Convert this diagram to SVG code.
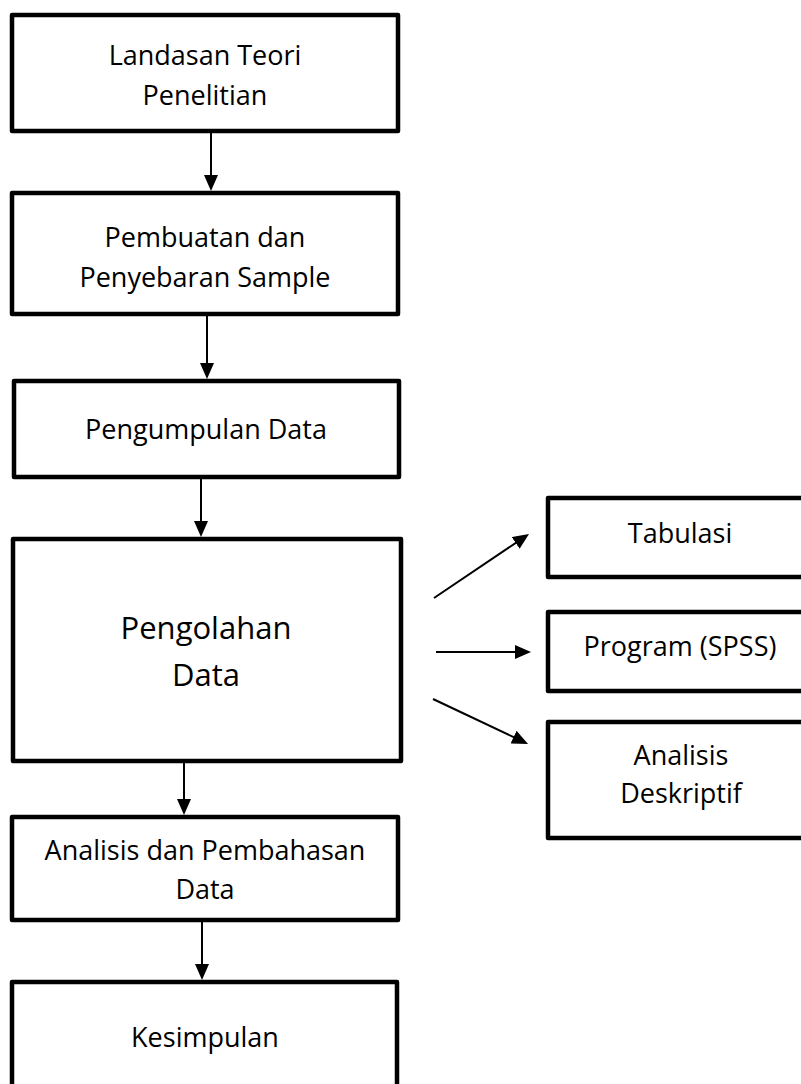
<svg xmlns="http://www.w3.org/2000/svg" width="801" height="1084" viewBox="0 0 801 1084">
<style>
.box{fill:#fff;stroke:#000;stroke-width:4.5;stroke-linejoin:round}
.lbl{font-family:"Open Sans","Noto Sans","Liberation Sans",sans-serif;font-size:27px;fill:#000;text-anchor:middle}
.big{font-size:31px}
.conn{stroke:#000;stroke-width:2;fill:none;marker-end:url(#arrow)}
</style>
<defs>
<marker id="arrow" viewBox="0 0 16 14" refX="6" refY="7" markerWidth="16" markerHeight="14" markerUnits="userSpaceOnUse" orient="auto">
<path d="M0,0 L16,7 L0,14 z" fill="#000"/>
</marker>
</defs>
<rect width="801" height="1084" fill="#fff"/>
<g id="n1"><rect class="box" x="12" y="15" width="386" height="116"/><text class="lbl" x="205" y="65">Landasan Teori</text><text class="lbl" x="205" y="105">Penelitian</text></g>
<g id="n2"><rect class="box" x="12" y="193" width="386" height="121"/><text class="lbl" x="205" y="247">Pembuatan dan</text><text class="lbl" x="205" y="287">Penyebaran Sample</text></g>
<g id="n3"><rect class="box" x="14" y="381" width="385" height="96"/><text class="lbl" x="206" y="439">Pengumpulan Data</text></g>
<g id="n4"><rect class="box" x="13" y="539" width="388" height="222"/><text class="lbl big" x="206" y="639">Pengolahan</text><text class="lbl big" x="206" y="686">Data</text></g>
<g id="n5"><rect class="box" x="12" y="817" width="386" height="103"/><text class="lbl" x="205" y="860">Analisis dan Pembahasan</text><text class="lbl" x="205" y="899">Data</text></g>
<g id="n6"><rect class="box" x="12" y="982" width="385" height="130"/><text class="lbl" x="205" y="1047">Kesimpulan</text></g>
<g id="r1"><rect class="box" x="548" y="498" width="280" height="79"/><text class="lbl" x="680" y="543">Tabulasi</text></g>
<g id="r2"><rect class="box" x="548" y="612" width="280" height="79"/><text class="lbl" x="680" y="656">Program (SPSS)</text></g>
<g id="r3"><rect class="box" x="548" y="722" width="280" height="116"/><text class="lbl" x="681" y="765">Analisis</text><text class="lbl" x="681" y="803">Deskriptif</text></g>
<g id="connectors">
<line class="conn" x1="211" y1="133" x2="211" y2="181"/>
<line class="conn" x1="207" y1="316" x2="207" y2="369"/>
<line class="conn" x1="201" y1="479" x2="201" y2="527"/>
<line class="conn" x1="184" y1="763" x2="184" y2="805"/>
<line class="conn" x1="202" y1="922" x2="202" y2="970"/>
<line class="conn" x1="434" y1="598" x2="520.7" y2="539.6"/>
<line class="conn" x1="436" y1="652" x2="521" y2="652"/>
<line class="conn" x1="433" y1="699" x2="519" y2="739.7"/>
</g>
</svg>
